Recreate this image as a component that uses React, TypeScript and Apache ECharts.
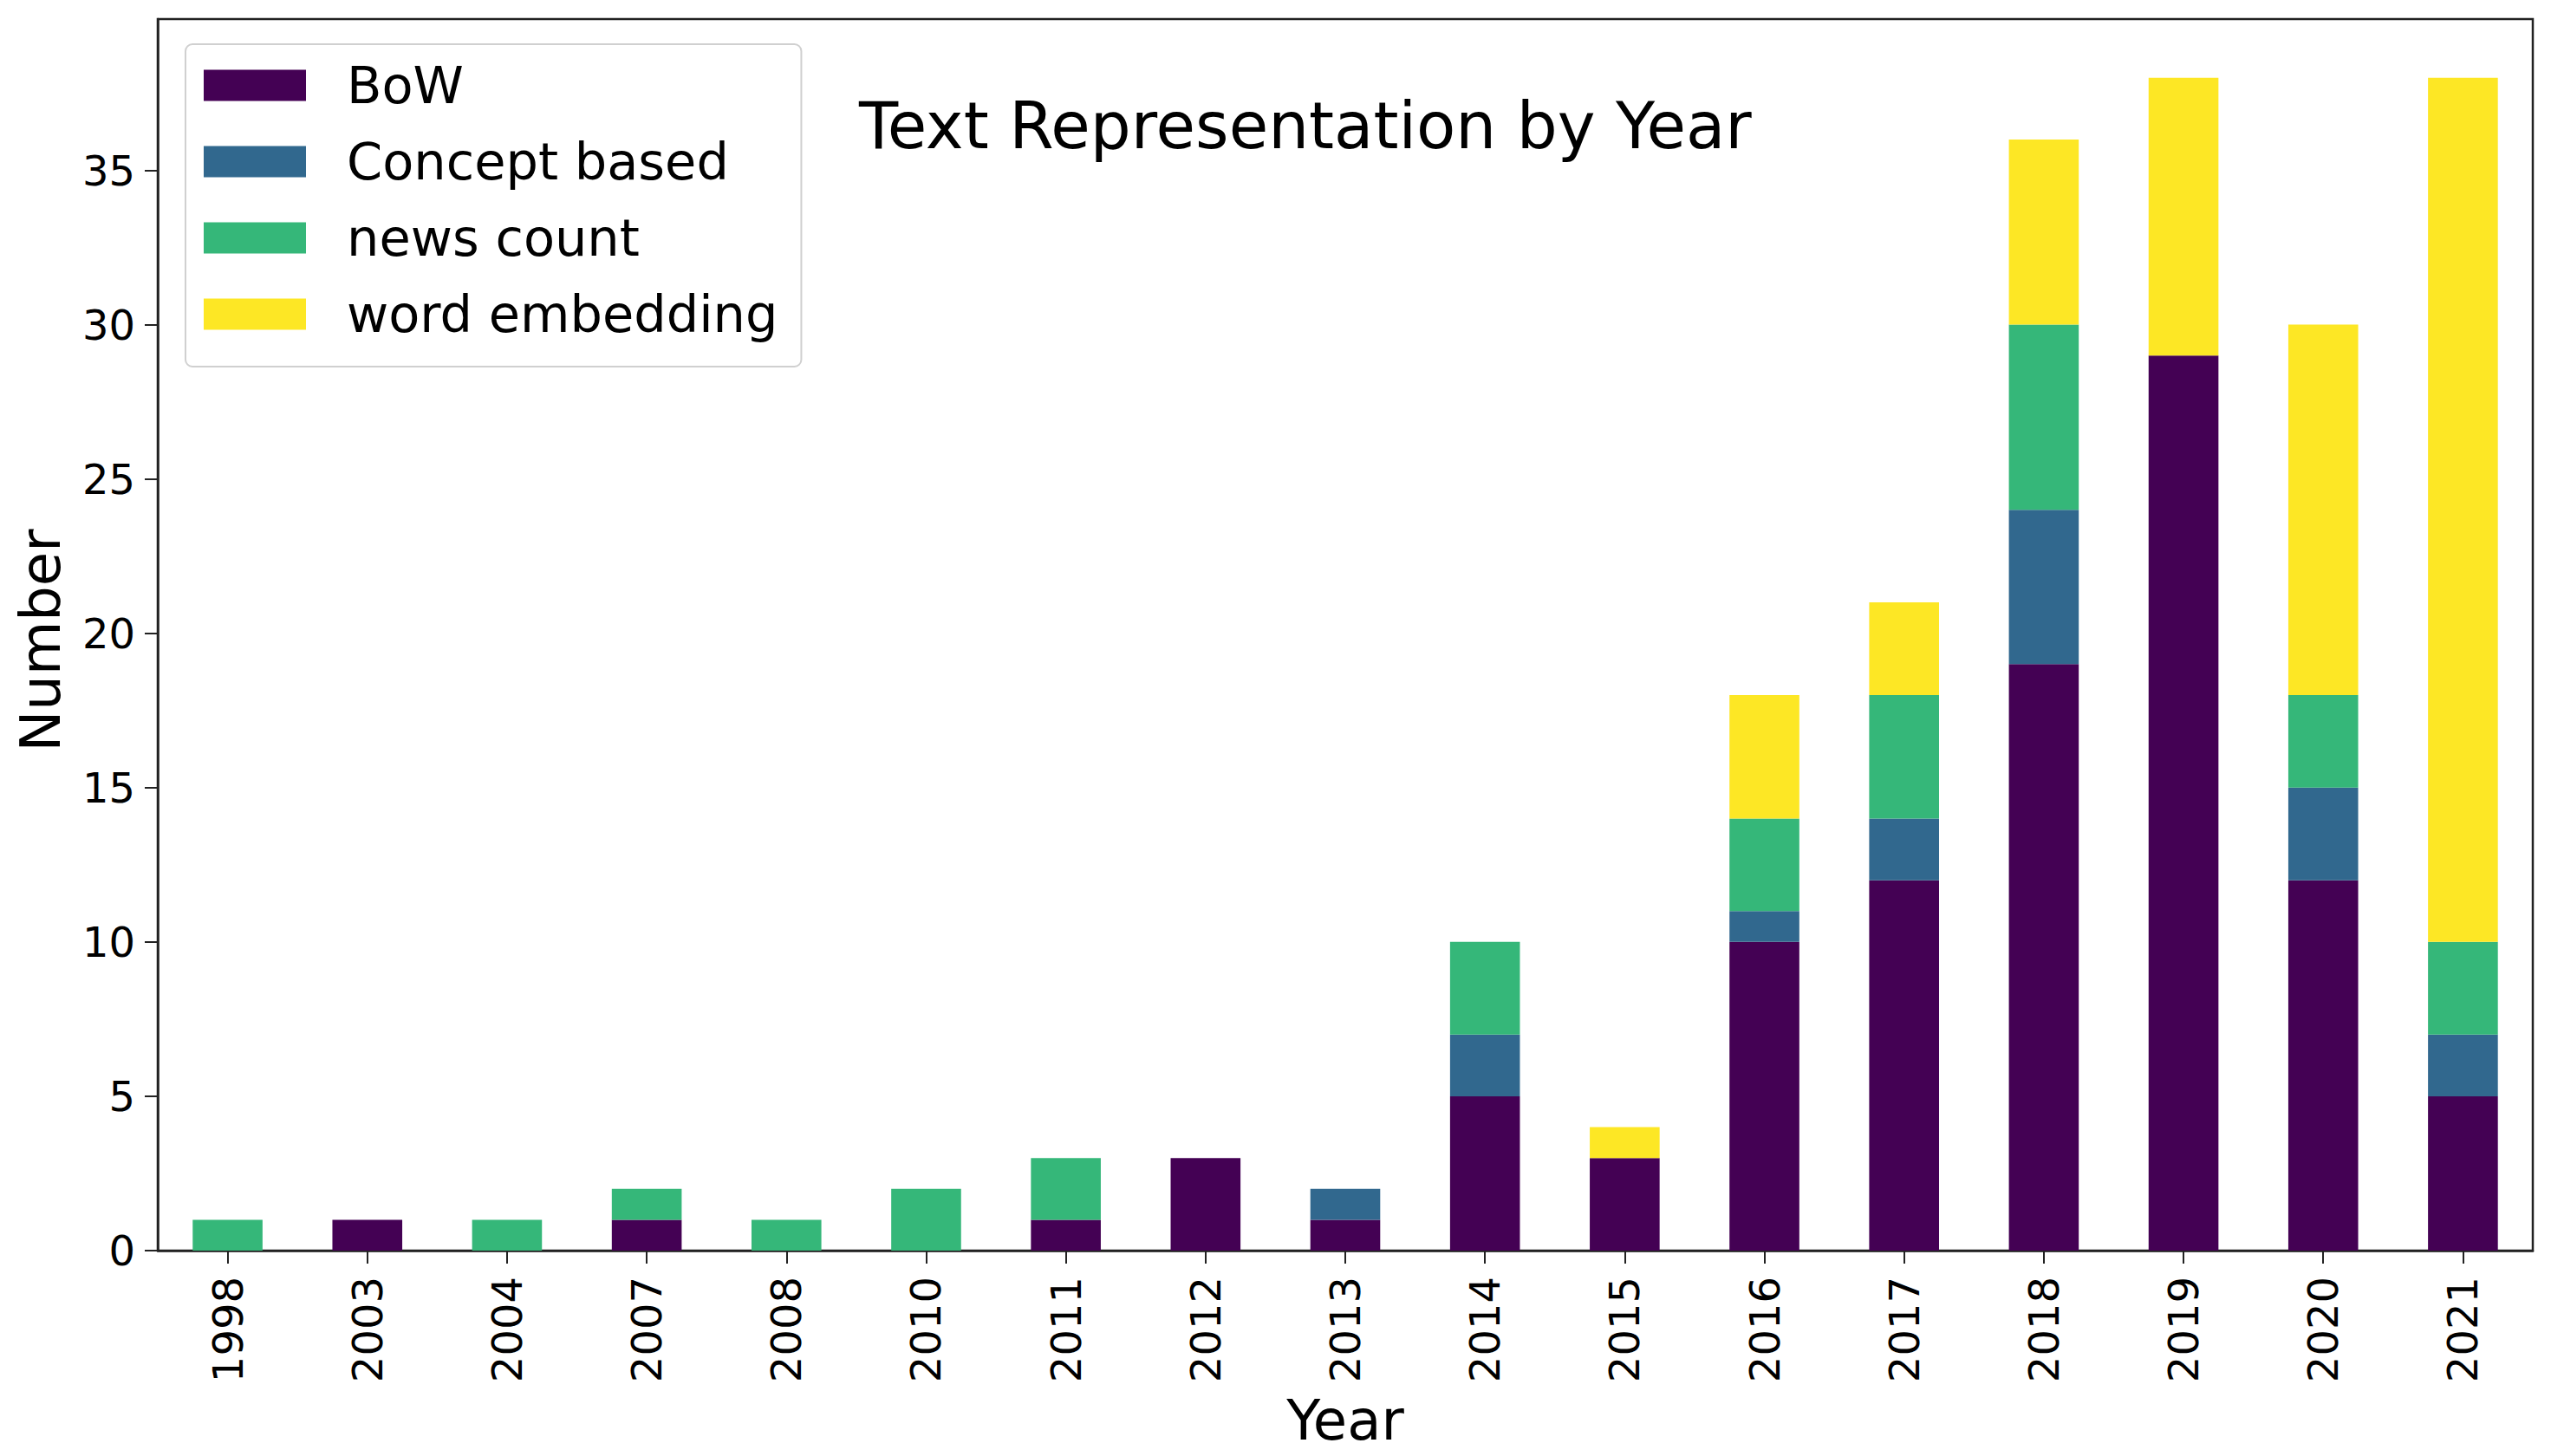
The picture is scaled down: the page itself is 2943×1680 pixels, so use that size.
import React, { useEffect, useRef } from "react";
import * as echarts from "echarts";

const years = ["1998", "2003", "2004", "2007", "2008", "2010", "2011", "2012", "2013", "2014", "2015", "2016", "2017", "2018", "2019", "2020", "2021"];
const bow = [0, 1, 0, 1, 0, 0, 1, 3, 1, 5, 3, 10, 12, 19, 29, 12, 5];
const conceptBased = [0, 0, 0, 0, 0, 0, 0, 0, 1, 2, 0, 1, 2, 5, 0, 3, 2];
const newsCount = [1, 0, 1, 1, 1, 2, 2, 0, 0, 3, 0, 3, 4, 6, 0, 3, 3];
const wordEmbedding = [0, 0, 0, 0, 0, 0, 0, 0, 0, 0, 1, 4, 3, 6, 9, 12, 28];
const seriesNames = ["BoW", "Concept based", "news count", "word embedding"];
const seriesColors = ["#440154", "#31688e", "#35b779", "#fde725"];
const yTicks = [0, 5, 10, 15, 20, 25, 30, 35];

const FONT = "DejaVu Sans";

export default function App() {
  const ref = useRef<HTMLDivElement>(null);
  useEffect(() => {
    if (!ref.current) return;
    const chart = echarts.init(ref.current, null, { renderer: "svg" });
    const values = [bow, conceptBased, newsCount, wordEmbedding];
    chart.setOption({
      animation: false,
      backgroundColor: "#ffffff",
      textStyle: { fontFamily: FONT },
      grid: {
        left: 182,
        right: 21,
        top: 22,
        bottom: 237,
        show: true,
        borderColor: "#222222",
        borderWidth: 2.5,
        backgroundColor: "transparent",
      },
      legend: {
        orient: "vertical",
        left: 214,
        top: 51,
        padding: [18, 27, 31, 21],
        backgroundColor: "#ffffff",
        borderColor: "#d0d0d0",
        borderWidth: 2,
        borderRadius: 8,
        itemWidth: 118,
        itemHeight: 36,
        itemGap: 29,
        icon: "rect",
        data: seriesNames,
        textStyle: {
          fontFamily: FONT,
          fontSize: 59,
          lineHeight: 59,
          color: "#000000",
          padding: [0, 0, 0, 42],
        },
      },
      xAxis: {
        type: "category",
        data: years,
        axisLine: { show: true, lineStyle: { color: "#222222", width: 2.5 } },
        axisTick: { show: true, alignWithLabel: true, length: 15, lineStyle: { color: "#222222", width: 2 } },
        axisLabel: {
          rotate: 90,
          fontSize: 48,
          fontFamily: FONT,
          color: "#000000",
          margin: 30,
          interval: 0,
        },
        splitLine: { show: false },
      },
      yAxis: {
        type: "value",
        min: 0,
        max: 39.9,
        interval: 5,
        axisLine: { show: true, lineStyle: { color: "#222222", width: 2.5 } },
        axisTick: { show: true, length: 15, lineStyle: { color: "#222222", width: 2 } },
        axisLabel: {
          fontSize: 48,
          fontFamily: FONT,
          color: "#000000",
          margin: 26,
          showMaxLabel: false,
          formatter: (v: number) => (yTicks.indexOf(v) >= 0 ? String(v) : ""),
        },
        splitLine: { show: false },
      },
      series: seriesNames.map((name, i) => ({
        name,
        type: "bar",
        stack: "total",
        barWidth: "50%",
        data: values[i],
        itemStyle: { color: seriesColors[i] },
      })),
      graphic: [
        {
          type: "text",
          left: 991,
          top: 145 - 37,
          style: {
            text: "Text Representation by Year",
            fontFamily: FONT,
            fontSize: 74,
            fill: "#000000",
          },
        },
        {
          type: "text",
          x: 1552,
          y: 1639,
          style: {
            text: "Year",
            fontFamily: FONT,
            fontSize: 64,
            fill: "#000000",
            align: "center",
            verticalAlign: "middle",
          },
        },
        {
          type: "text",
          x: 47,
          y: 739,
          rotation: Math.PI / 2,
          style: {
            text: "Number",
            fontFamily: FONT,
            fontSize: 64,
            fill: "#000000",
            align: "center",
            verticalAlign: "middle",
          },
        },
      ],
    });
    return () => chart.dispose();
  }, []);
  return (
    <div
      ref={ref}
      style={{ position: "fixed", left: 0, top: 0, width: 2943, height: 1680 }}
    />
  );
}
